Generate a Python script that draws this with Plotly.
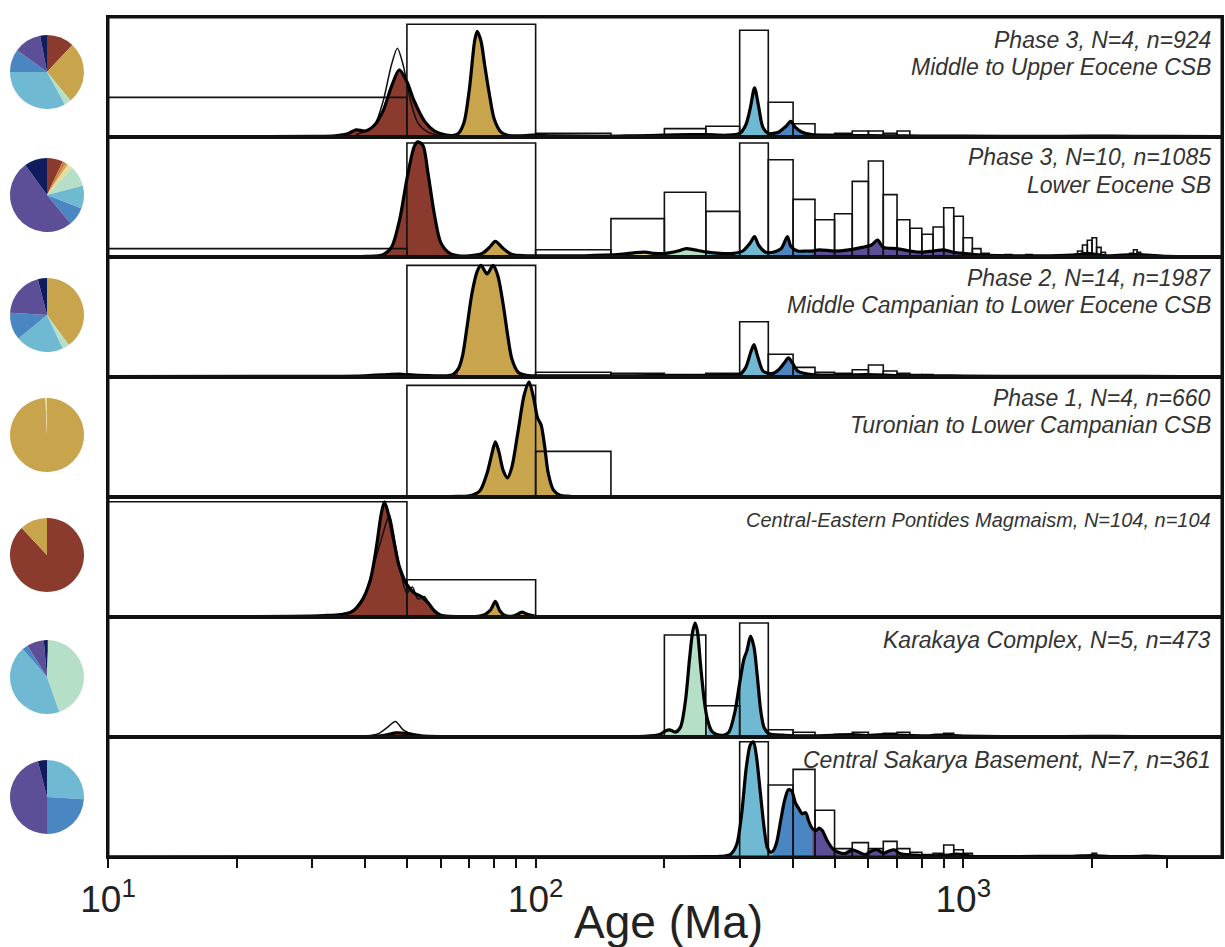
import plotly.graph_objects as go
from plotly.subplots import make_subplots

# ---------------- data ----------------
panel_lines = [
    ["Phase 3, N=4, n=924", "Middle to Upper Eocene CSB"],
    ["Phase 3, N=10, n=1085", "Lower Eocene SB"],
    ["Phase 2, N=14, n=1987", "Middle Campanian to Lower Eocene CSB"],
    ["Phase 1, N=4, n=660", "Turonian to Lower Campanian CSB"],
    ["Central-Eastern Pontides Magmaism, N=104, n=104"],
    ["Karakaya Complex, N=5, n=473"],
    ["Central Sakarya Basement, N=7, n=361"],
]

# age groups (Ma) used for the coloured fills
group_names = ["red", "gold", "pale", "green", "lblue", "mblue", "purple", "navy"]
group_lo = [0, 66, 145, 201, 252, 359, 443, 1000]
group_hi = [66, 145, 201, 252, 359, 443, 1000, 5000]
group_colors = {
    "red": "#8B3A2E", "orange": "#CF7A3A", "gold": "#C8A44C", "pale": "#E6DC9C",
    "green": "#B5DFC6", "lblue": "#6FBAD2", "mblue": "#4A86C2",
    "purple": "#5D4F97", "navy": "#0F1D5E",
}

# pie proportions (clockwise from 12 o'clock)
pie_groups = [
    ["red", "gold", "green", "lblue", "mblue", "purple", "navy"],
    ["red", "orange", "gold", "pale", "green", "lblue", "mblue", "purple", "navy"],
    ["gold", "green", "lblue", "mblue", "purple", "navy"],
    ["gold", "pale"],
    ["red", "gold"],
    ["red", "green", "lblue", "mblue", "purple", "navy"],
    ["lblue", "mblue", "purple", "navy"],
]
pie_values = [
    [12, 27, 3, 33, 10, 12, 3],
    [7, 1.5, 1, 2.5, 9, 10, 8, 51, 10],
    [40, 3, 21, 12, 20, 4],
    [99.3, 0.7],
    [88, 12],
    [0.6, 44, 44, 2.5, 7.5, 1.4],
    [26, 24, 46, 4],
]

# histogram bins: 50 Ma wide, (left edge, relative height)
bin_width = 50
hist = [
    [(0, 0.33), (50, 0.94), (100, 0.03), (200, 0.07), (250, 0.09), (300, 0.89), (350, 0.29),
     (400, 0.11), (500, 0.03), (550, 0.05), (600, 0.05), (650, 0.03), (700, 0.05)],
    [(0, 0.07), (50, 0.95), (100, 0.06), (150, 0.32), (200, 0.54), (250, 0.38), (300, 0.95),
     (350, 0.81), (400, 0.48), (450, 0.31), (500, 0.36), (550, 0.63), (600, 0.80), (650, 0.52),
     (700, 0.31), (750, 0.24), (800, 0.19), (850, 0.25), (900, 0.41), (950, 0.34), (1000, 0.16),
     (1050, 0.07), (1100, 0.03), (1250, 0.02), (1400, 0.02), (1850, 0.05), (1900, 0.10),
     (1950, 0.14), (2000, 0.16), (2050, 0.08), (2100, 0.04), (2450, 0.03), (2500, 0.06),
     (2550, 0.04), (2600, 0.02)],
    [(0, 0.01), (50, 0.93), (100, 0.04), (150, 0.03), (200, 0.02), (250, 0.03), (300, 0.46),
     (350, 0.19), (400, 0.08), (450, 0.04), (500, 0.03), (550, 0.06), (600, 0.10), (650, 0.05),
     (700, 0.03), (750, 0.02), (800, 0.02), (950, 0.01)],
    [(50, 0.93), (100, 0.38)],
    [(0, 0.96), (50, 0.31)],
    [(200, 0.85), (250, 0.26), (300, 0.95), (350, 0.06), (400, 0.04), (450, 0.01), (500, 0.02),
     (550, 0.04), (600, 0.02), (650, 0.03), (700, 0.04), (750, 0.01), (800, 0.01), (850, 0.02),
     (900, 0.03), (950, 0.01)],
    [(300, 0.96), (350, 0.60), (400, 0.73), (450, 0.39), (500, 0.07), (550, 0.12), (600, 0.07),
     (650, 0.13), (700, 0.07), (750, 0.04), (800, 0.02), (850, 0.03), (900, 0.10), (950, 0.06),
     (1000, 0.03), (1050, 0.01), (1400, 0.01), (1850, 0.01), (2000, 0.03), (2050, 0.01),
     (2500, 0.01), (2700, 0.01)],
]

# density curves (age Ma, relative height)
kde = [
    [(10, 0.002), (20, 0.003), (30, 0.005), (34, 0.01), (36.5, 0.03), (38, 0.06), (40, 0.05),
     (42, 0.1), (44, 0.22), (46, 0.42), (48, 0.56), (50, 0.46), (52, 0.3), (55, 0.13), (58, 0.05),
     (61, 0.02), (64, 0.012), (66, 0.03), (68, 0.12), (70, 0.4), (72, 0.8), (73, 0.88),
     (74.5, 0.8), (76, 0.6), (78, 0.35), (80, 0.15), (83, 0.04), (86, 0.015), (92, 0.01),
     (98, 0.015), (110, 0.01), (145, 0.006), (170, 0.01), (201, 0.015), (230, 0.02),
     (252, 0.02), (280, 0.015), (300, 0.03), (310, 0.1), (318, 0.25), (325, 0.41), (332, 0.26),
     (340, 0.08), (350, 0.03), (359, 0.03), (370, 0.04), (385, 0.09), (395, 0.13), (405, 0.08),
     (420, 0.04), (443, 0.02), (480, 0.015), (550, 0.012), (650, 0.01), (800, 0.008),
     (1000, 0.008), (1500, 0.005), (2000, 0.008), (2500, 0.006), (3000, 0.006), (4000, 0.003)],
    [(10, 0.002), (30, 0.003), (40, 0.005), (44, 0.02), (46, 0.08), (48, 0.3), (50, 0.65),
     (52, 0.92), (53, 0.96), (54.5, 0.93), (56, 0.7), (58, 0.35), (60, 0.12), (63, 0.03),
     (66, 0.01), (70, 0.01), (75, 0.03), (78, 0.08), (80.5, 0.13), (84, 0.07), (88, 0.02),
     (95, 0.01), (110, 0.01), (130, 0.01), (145, 0.015), (160, 0.025), (170, 0.035), (180, 0.04),
     (190, 0.03), (201, 0.03), (215, 0.05), (225, 0.07), (235, 0.06), (252, 0.04), (270, 0.03),
     (290, 0.03), (305, 0.05), (318, 0.12), (325, 0.17), (332, 0.1), (345, 0.04), (359, 0.04),
     (375, 0.07), (388, 0.17), (395, 0.09), (410, 0.05), (430, 0.05), (443, 0.05), (460, 0.06),
     (500, 0.05), (540, 0.06), (580, 0.08), (610, 0.1), (630, 0.14), (650, 0.08), (700, 0.07),
     (750, 0.05), (800, 0.04), (850, 0.05), (900, 0.06), (950, 0.04), (1000, 0.03),
     (1100, 0.015), (1300, 0.01), (1600, 0.01), (1850, 0.02), (1950, 0.03), (2050, 0.02),
     (2200, 0.01), (2500, 0.02), (2700, 0.015), (3000, 0.005), (4000, 0.003)],
    [(10, 0.003), (30, 0.005), (40, 0.01), (45, 0.02), (48, 0.025), (52, 0.015), (58, 0.01),
     (62, 0.01), (64, 0.02), (66, 0.07), (67.5, 0.18), (69, 0.4), (71, 0.7), (73, 0.88),
     (74.5, 0.93), (77, 0.86), (79.5, 0.93), (81.5, 0.85), (84, 0.6), (86, 0.35), (88, 0.15),
     (91, 0.04), (95, 0.015), (110, 0.01), (130, 0.01), (145, 0.01), (170, 0.01), (201, 0.012),
     (230, 0.01), (252, 0.012), (280, 0.015), (300, 0.02), (310, 0.08), (318, 0.2), (324, 0.27),
     (330, 0.18), (340, 0.05), (350, 0.03), (359, 0.03), (370, 0.06), (382, 0.12), (390, 0.16),
     (398, 0.12), (410, 0.05), (425, 0.03), (443, 0.02), (500, 0.015), (600, 0.02), (700, 0.012),
     (850, 0.01), (1000, 0.008), (1500, 0.005), (2000, 0.006), (2600, 0.005), (4000, 0.002)],
    [(10, 0.001), (50, 0.002), (66, 0.005), (70, 0.01), (74, 0.05), (77, 0.2), (79, 0.36),
     (80.5, 0.46), (82, 0.38), (84, 0.22), (86, 0.16), (88, 0.25), (91, 0.55), (94, 0.85),
     (96.5, 0.96), (99, 0.82), (101, 0.66), (103, 0.6), (105, 0.42), (107, 0.2), (110, 0.06),
     (114, 0.015), (120, 0.006), (145, 0.003), (200, 0.001), (4000, 0.0)],
    [(10, 0.001), (20, 0.003), (27, 0.006), (32, 0.012), (35, 0.02), (37, 0.04), (39, 0.12),
     (41, 0.3), (42.5, 0.6), (43.5, 0.85), (44.3, 0.96), (45.3, 0.85), (46.5, 0.65), (48, 0.42),
     (50, 0.27), (52, 0.2), (54, 0.17), (56, 0.12), (58, 0.05), (60, 0.015), (63, 0.005),
     (66, 0.004), (72, 0.004), (76, 0.02), (78.5, 0.06), (80.5, 0.13), (82.5, 0.05), (85, 0.01),
     (89, 0.01), (93, 0.04), (96, 0.02), (100, 0.005), (110, 0.002), (145, 0.001), (4000, 0.0)],
    [(10, 0.002), (30, 0.002), (40, 0.003), (44, 0.012), (47, 0.035), (50, 0.03), (54, 0.01),
     (60, 0.003), (66, 0.002), (100, 0.003), (145, 0.003), (180, 0.005), (195, 0.02), (201, 0.05),
     (206, 0.06), (212, 0.04), (218, 0.08), (224, 0.3), (229, 0.65), (233, 0.88), (236, 0.95),
     (239, 0.88), (243, 0.6), (248, 0.3), (252, 0.15), (258, 0.05), (265, 0.02), (275, 0.015),
     (283, 0.04), (292, 0.2), (300, 0.45), (307, 0.65), (312, 0.72), (318, 0.84), (324, 0.75),
     (330, 0.5), (336, 0.22), (342, 0.08), (350, 0.03), (359, 0.02), (380, 0.015), (410, 0.01),
     (443, 0.01), (500, 0.015), (550, 0.02), (600, 0.012), (650, 0.02), (700, 0.015),
     (800, 0.01), (900, 0.015), (1000, 0.008), (1500, 0.003), (2000, 0.005), (2500, 0.004),
     (3000, 0.002), (4000, 0.001)],
    [(10, 0.0), (100, 0.001), (200, 0.002), (252, 0.003), (270, 0.005), (285, 0.02), (295, 0.1),
     (303, 0.35), (311, 0.75), (318, 0.94), (323, 0.96), (328, 0.85), (335, 0.55), (342, 0.25),
     (348, 0.08), (354, 0.04), (359, 0.05), (366, 0.12), (374, 0.3), (382, 0.47), (390, 0.56),
     (397, 0.55), (405, 0.45), (413, 0.4), (420, 0.36), (428, 0.37), (435, 0.3), (443, 0.24),
     (452, 0.22), (460, 0.24), (468, 0.22), (480, 0.14), (495, 0.07), (510, 0.04), (530, 0.03),
     (550, 0.06), (570, 0.04), (590, 0.02), (610, 0.05), (630, 0.06), (650, 0.03), (670, 0.05),
     (690, 0.06), (710, 0.03), (740, 0.02), (780, 0.015), (850, 0.01), (920, 0.015),
     (960, 0.025), (1000, 0.02), (1050, 0.005), (1200, 0.003), (1500, 0.005), (1800, 0.006),
     (2000, 0.012), (2200, 0.004), (2600, 0.005), (2700, 0.008), (3000, 0.002), (4000, 0.001)],
]

# secondary thin curves visible in some panels
kde_thin = {
    0: [(38, 0.02), (40, 0.05), (42, 0.1), (44, 0.3), (46, 0.6), (47.5, 0.74), (49, 0.6),
        (51, 0.3), (53, 0.12), (56, 0.04), (60, 0.01)],
    4: [(38, 0.08), (40, 0.2), (42, 0.45), (44, 0.7), (45.5, 0.85), (47, 0.6), (48.5, 0.35),
        (50, 0.2), (51.5, 0.25), (53, 0.15), (55, 0.17), (57, 0.07), (60, 0.01)],
    5: [(40, 0.005), (43, 0.03), (45, 0.08), (47, 0.13), (49, 0.06), (52, 0.02), (56, 0.005)],
}

major_ticks = [10, 100, 1000]
major_text = ["10<sup>1</sup>", "10<sup>2</sup>", "10<sup>3</sup>"]
minor_ticks = [20, 30, 40, 50, 60, 70, 80, 90, 200, 300, 400, 500, 600, 700, 800, 900,
               2000, 3000]

# ---------------- figure ----------------
W, H = 1225, 947
ML, MR, MT, MB = 0, 3, 17, 90
PW, PH = W - ML - MR, H - MT - MB
x_dom0 = 108 / PW
NP = 7

fig = make_subplots(rows=NP, cols=1, shared_xaxes=True, vertical_spacing=0)

for i in range(NP):
    row = i + 1
    pts = kde[i]
    ages = [p[0] for p in pts]
    hs = [p[1] for p in pts]
    # coloured fills
    for g, lo, hi in zip(group_names, group_lo, group_hi):
        idx = [k for k, a in enumerate(ages) if lo <= a <= hi]
        if not idx:
            continue
        last = idx[-1]
        if ages[last] < hi and last + 1 < len(ages):
            idx.append(last + 1)
        if len(idx) < 2:
            continue
        fig.add_trace(go.Scatter(
            x=[ages[k] for k in idx], y=[hs[k] for k in idx],
            mode="lines", line=dict(width=0, shape="spline", smoothing=0.8),
            fill="tozeroy", fillcolor=group_colors[g], hoverinfo="skip", showlegend=False),
            row=row, col=1)
    # histogram outline
    xs, ys = [], []
    for lo, h in hist[i]:
        x0 = lo if lo > 0 else 1
        xs += [x0, x0, lo + bin_width, lo + bin_width, None]
        ys += [0, h, h, 0, None]
    fig.add_trace(go.Scatter(x=xs, y=ys, mode="lines", line=dict(color="#111", width=1.6),
                             hoverinfo="skip", showlegend=False), row=row, col=1)
    # thin curve
    if i in kde_thin:
        tp = kde_thin[i]
        fig.add_trace(go.Scatter(x=[p[0] for p in tp], y=[p[1] for p in tp], mode="lines",
                                 line=dict(color="#111", width=1.5, shape="spline", smoothing=0.8),
                                 hoverinfo="skip", showlegend=False), row=row, col=1)
    # main curve
    fig.add_trace(go.Scatter(x=ages, y=hs, mode="lines",
                             line=dict(color="#000", width=3.2, shape="spline", smoothing=0.8),
                             hoverinfo="skip", showlegend=False), row=row, col=1)

fig.update_xaxes(type="log", range=[1, 3.605], domain=[x_dom0, 1], showgrid=False,
                 zeroline=False, showline=True, linewidth=2, linecolor="#111", mirror=True,
                 ticks="", showticklabels=False, automargin=False)
fig.update_yaxes(range=[0, 1.0], showgrid=False, zeroline=False, showline=True, linewidth=2,
                 linecolor="#111", mirror=True, ticks="", showticklabels=False, fixedrange=True,
                 automargin=False)
fig.update_xaxes(row=NP, col=1, ticks="outside", ticklen=9, tickwidth=2, tickcolor="#111",
                 tickmode="array", tickvals=major_ticks, ticktext=major_text,
                 showticklabels=True,
                 minor=dict(ticks="outside", ticklen=9, tickwidth=2, tickcolor="#111",
                            tickmode="array", tickvals=minor_ticks, showgrid=False),
                 tickfont=dict(family="Liberation Sans, Arial", size=37, color="#222"))

# pies
pie_centers_px = [72, 195, 315, 435, 555, 677, 797]
pie_d = 74
for i in range(NP):
    cy = pie_centers_px[i]
    y0 = (MT + PH - (cy + pie_d / 2)) / PH
    y1 = (MT + PH - (cy - pie_d / 2)) / PH
    fig.add_trace(go.Pie(
        values=pie_values[i], labels=[f"{g}{k}" for k, g in enumerate(pie_groups[i])],
        marker=dict(colors=[group_colors[g] for g in pie_groups[i]], line=dict(width=0)),
        sort=False, direction="clockwise", rotation=0, textinfo="none", hoverinfo="skip",
        showlegend=False, automargin=False,
        domain=dict(x=[10 / PW, 84 / PW], y=[y0, y1])))

# panel labels
label_px = [[40, 67], [157, 185], [278, 305], [398, 425], [520], [640], [760]]
label_size = [23, 23, 23, 23, 20, 23, 23]
for i in range(NP):
    for txt, ypx in zip(panel_lines[i], label_px[i]):
        fig.add_annotation(text=txt, xref="paper", yref="paper", x=1213 / PW,
                           y=(MT + PH - ypx) / PH, xanchor="right", yanchor="middle",
                           showarrow=False,
                           font=dict(family="Liberation Sans, Arial", size=label_size[i],
                                     color="#333", style="italic"))

fig.add_annotation(text="Age (Ma)", xref="paper", yref="paper", x=(668 - ML) / PW,
                   y=(MT + PH - 922) / PH, xanchor="center", yanchor="middle", showarrow=False,
                   font=dict(family="Liberation Sans, Arial", size=46, color="#222"))

# thick outer frame
fig.add_shape(type="rect", xref="paper", yref="paper", x0=x_dom0, x1=1, y0=0, y1=1,
              line=dict(color="#111", width=3), layer="above")

fig.update_layout(width=W, height=H, margin=dict(l=ML, r=MR, t=MT, b=MB, autoexpand=False),
                  paper_bgcolor="white", plot_bgcolor="white", hovermode=False)

fig.write_html("out.html")
